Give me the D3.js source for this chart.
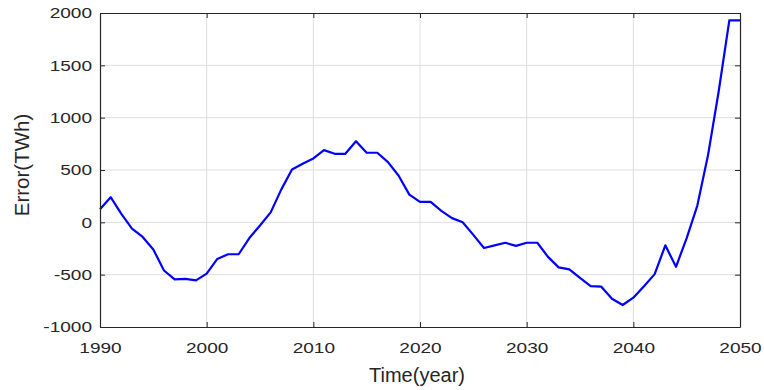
<!DOCTYPE html>
<html>
<head>
<meta charset="utf-8">
<script src="https://cdn.jsdelivr.net/npm/d3@7"></script>
<style>
  html, body { margin: 0; padding: 0; background: #fff; }
  svg { display: block; }
  text { font-family: "Liberation Sans", Arial, Helvetica, sans-serif; fill: #262626; }
</style>
</head>
<body>
<div id="chart"></div>
<script>
// ---- data ----
const years = [1990,1991,1992,1993,1994,1995,1996,1997,1998,1999,
               2000,2001,2002,2003,2004,2005,2006,2007,2008,2009,
               2010,2011,2012,2013,2014,2015,2016,2017,2018,2019,
               2020,2021,2022,2023,2024,2025,2026,2027,2028,2029,
               2030,2031,2032,2033,2034,2035,2036,2037,2038,2039,
               2040,2041,2042,2043,2044,2045,2046,2047,2048,2049,2050];
const errorValues = [125,240,80,-60,-140,-260,-460,-545,-540,-555,
                     -490,-350,-305,-305,-150,-30,95,315,505,560,
                     610,690,655,655,775,665,665,575,445,265,
                     195,195,110,40,0,-120,-245,-220,-195,-225,
                     -195,-195,-330,-430,-450,-530,-610,-615,-730,-790,
                     -720,-610,-495,-220,-425,-150,160,640,1250,1930,1930];
const xTicks = [1990,2000,2010,2020,2030,2040,2050];
const yTicks = [-1000,-500,0,500,1000,1500,2000];
const xLabel = "Time(year)";
const yLabel = "Error(TWh)";

// ---- layout ----
const W = 764, H = 390;
const m = {left: 100, right: 24, top: 13, bottom: 63};
const iw = W - m.left - m.right, ih = H - m.top - m.bottom;

const svg = d3.select("#chart").append("svg").attr("width", W).attr("height", H);
const g = svg.append("g").attr("transform", `translate(${m.left},${m.top})`);

const x = d3.scaleLinear().domain([1990, 2050]).range([0, iw]);
const y = d3.scaleLinear().domain([-1000, 2000]).range([ih, 0]);

// grid
g.append("g").selectAll("line").data(xTicks.slice(1, -1)).join("line")
  .attr("x1", d => x(d)).attr("x2", d => x(d)).attr("y1", 0).attr("y2", ih)
  .attr("stroke", "#dedede").attr("stroke-width", 1);
g.append("g").selectAll("line").data(yTicks.slice(1, -1)).join("line")
  .attr("y1", d => y(d)).attr("y2", d => y(d)).attr("x1", 0).attr("x2", iw)
  .attr("stroke", "#dedede").attr("stroke-width", 1);

// line
const line = d3.line().x((d, i) => x(years[i])).y(d => y(d));
g.append("path").datum(errorValues)
  .attr("d", line).attr("fill", "none")
  .attr("stroke", "#0000ff").attr("stroke-width", 2.2)
  .attr("stroke-linejoin", "round");

const SX = 1.27;
const fmt = d => String(d);
// bottom axis
const xa = g.append("g").attr("transform", `translate(0,${ih})`)
  .call(d3.axisBottom(x).tickValues(xTicks).tickFormat(fmt).tickSize(-5).tickSizeOuter(0));
xa.selectAll("text").attr("y", 15).attr("font-size", 15)
  .attr("transform", `scale(${SX},1)`);
// top axis (ticks only)
const xt = g.append("g")
  .call(d3.axisTop(x).tickValues(xTicks).tickFormat("").tickSize(-5).tickSizeOuter(0));
// left axis
const ya = g.append("g")
  .call(d3.axisLeft(y).tickValues(yTicks).tickFormat(fmt).tickSize(-5).tickSizeOuter(0));
ya.selectAll("text").attr("x", -8 / SX).attr("font-size", 15)
  .attr("transform", `scale(${SX},1)`);
// right axis
const yr = g.append("g").attr("transform", `translate(${iw},0)`)
  .call(d3.axisRight(y).tickValues(yTicks).tickFormat("").tickSize(-5).tickSizeOuter(0));

[xa, xt, ya, yr].forEach(a => {
  a.select(".domain").attr("stroke", "#262626").attr("stroke-width", 1.2);
  a.selectAll(".tick line").attr("stroke", "#262626");
  a.selectAll("text").attr("fill", "#333333").attr("font-family", '"Liberation Sans", Arial, sans-serif');
});

// labels
svg.append("text").text(xLabel)
  .attr("x", m.left + iw / 2 - 3).attr("y", 382)
  .attr("text-anchor", "middle").attr("font-size", 20);
svg.append("text").text(yLabel)
  .attr("transform", `translate(29,165) rotate(-90)`)
  .attr("text-anchor", "middle").attr("font-size", 20.5);
</script>
</body>
</html>
